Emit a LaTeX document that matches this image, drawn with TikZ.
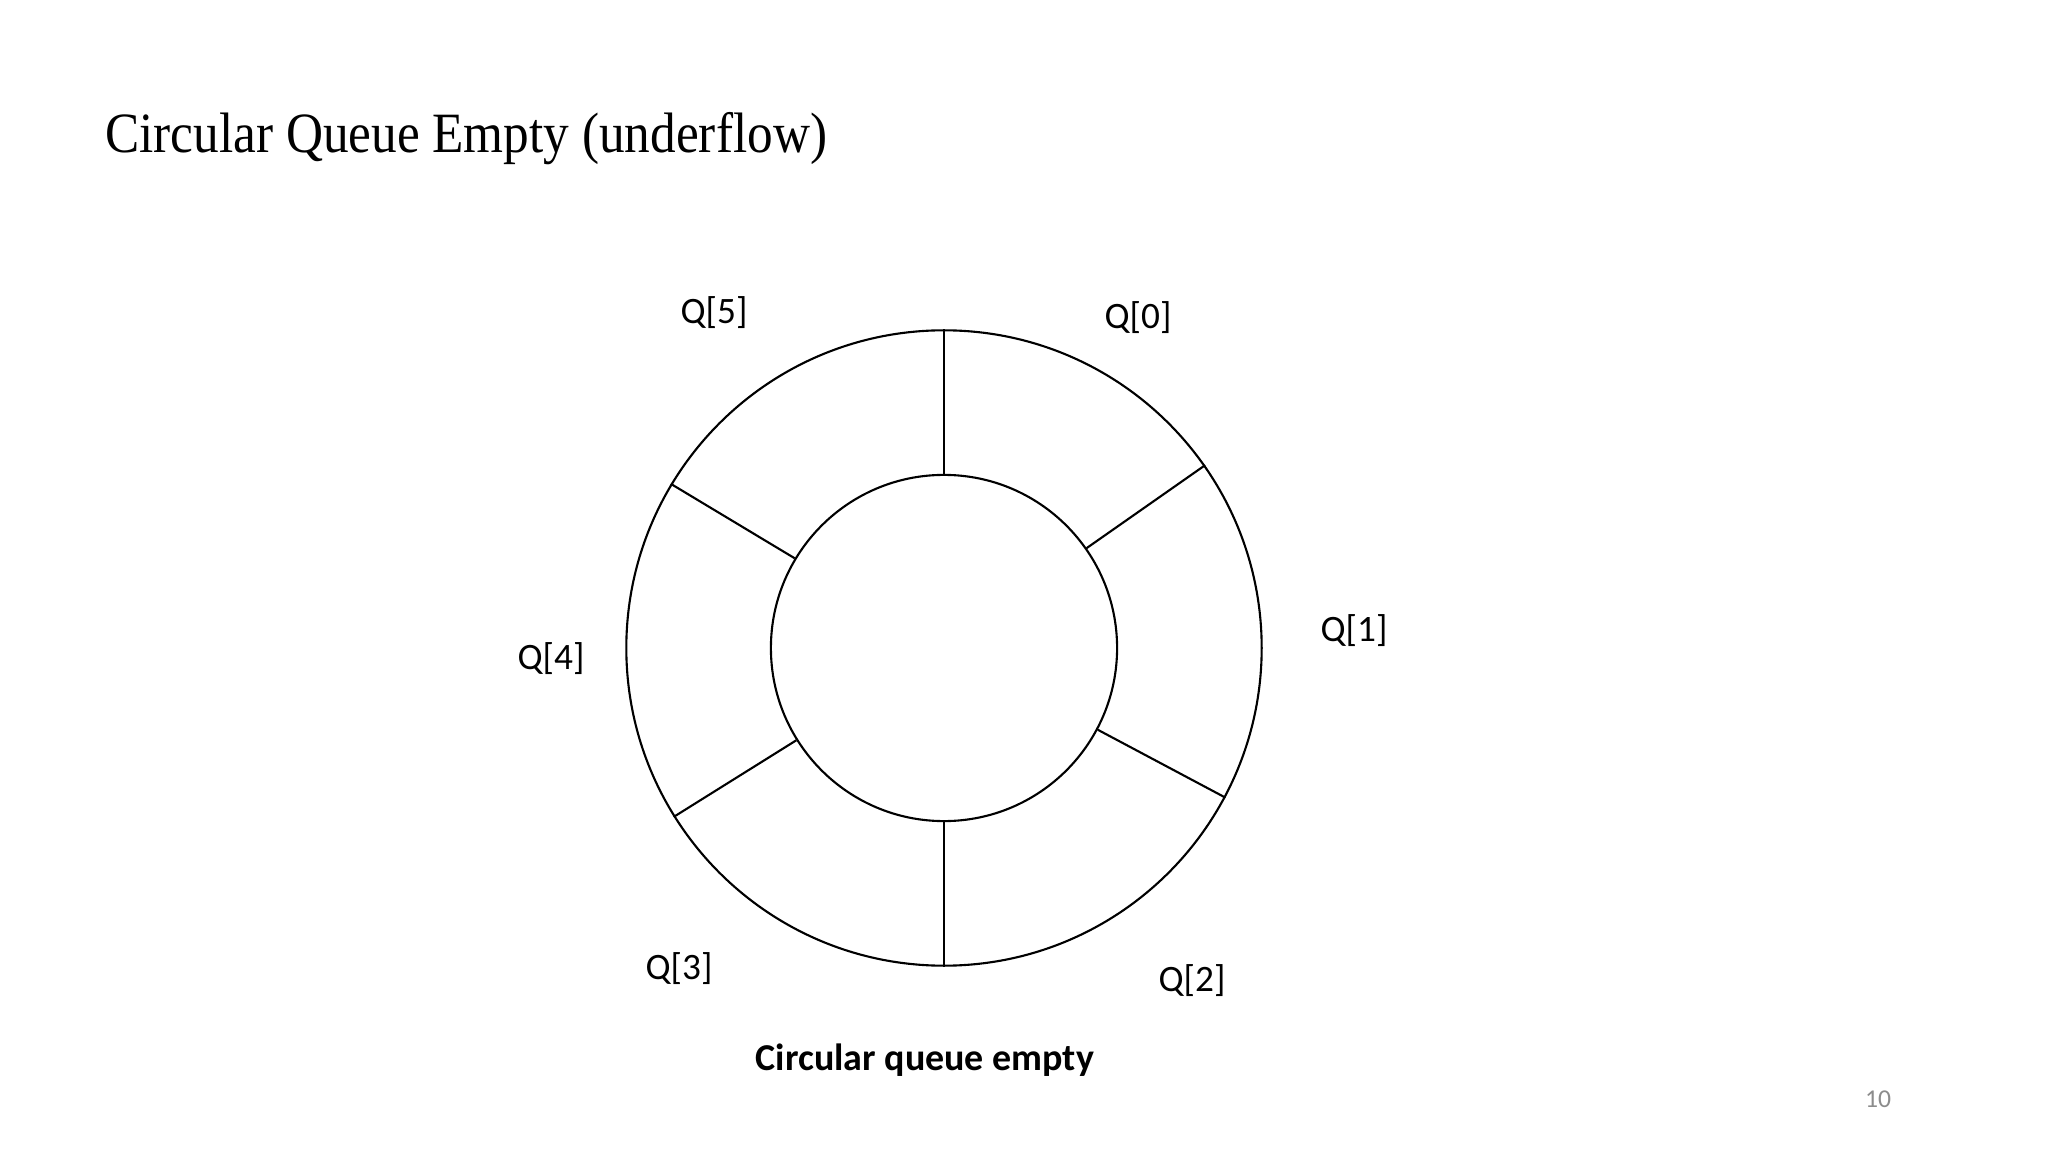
\documentclass[tikz,border=0pt]{standalone}
\usepackage{fontspec}
\setmainfont{Carlito}
\newfontfamily\titlefont{Liberation Serif}
\definecolor{pagegray}{HTML}{8C8C8C}

\begin{document}
\begin{tikzpicture}[
        x=0.01cm, y=-0.01cm,
        ringnode/.style={circle, draw=black, line width=0.6pt, inner sep=0pt},
        slotlabel/.style={font=\fontsize{10.6}{12}\selectfont},
        ]
                \useasboundingbox (0,0) rectangle (2048,1152);

                \node[anchor=base west, xscale=0.9, font=\titlefont\fontsize{16.2}{19}\selectfont] at(94,153) (title) {Circular Queue Empty (underflow)};

                \node[ringnode, minimum size=6.35cm] at(944,648) (outer) {};
                \node[ringnode, minimum size=3.46cm] at(944,648) (inner) {};

                \draw[line width=0.6pt] (inner.90)  --  (outer.90) ;
                \draw[line width=0.6pt] (inner.35)  --  (outer.35) ;
                \draw[line width=0.6pt] (inner.-28) --  (outer.-28) ;
                \draw[line width=0.6pt] (inner.-90) --  (outer.-90) ;
                \draw[line width=0.6pt] (inner.212) --  (outer.212) ;
                \draw[line width=0.6pt] (inner.149) --  (outer.149) ;

                \node[slotlabel] at(1138,318) (q0) {Q[0]};
                \node[slotlabel] at(1354,631) (q1) {Q[1]};
                \node[slotlabel] at(1192,981) (q2) {Q[2]};
                \node[slotlabel] at(679,969)  (q3) {Q[3]};
                \node[slotlabel] at(551,659)  (q4) {Q[4]};
                \node[slotlabel] at(714,313)  (q5) {Q[5]};

                \node[font=\bfseries\fontsize{10.8}{13}\selectfont] at(925,1060) (caption) {Circular queue empty};
                \node[text=pagegray, font=\fontsize{7.3}{9}\selectfont] at(1878,1099) (page) {10};

            \end{tikzpicture}
\end{document}
